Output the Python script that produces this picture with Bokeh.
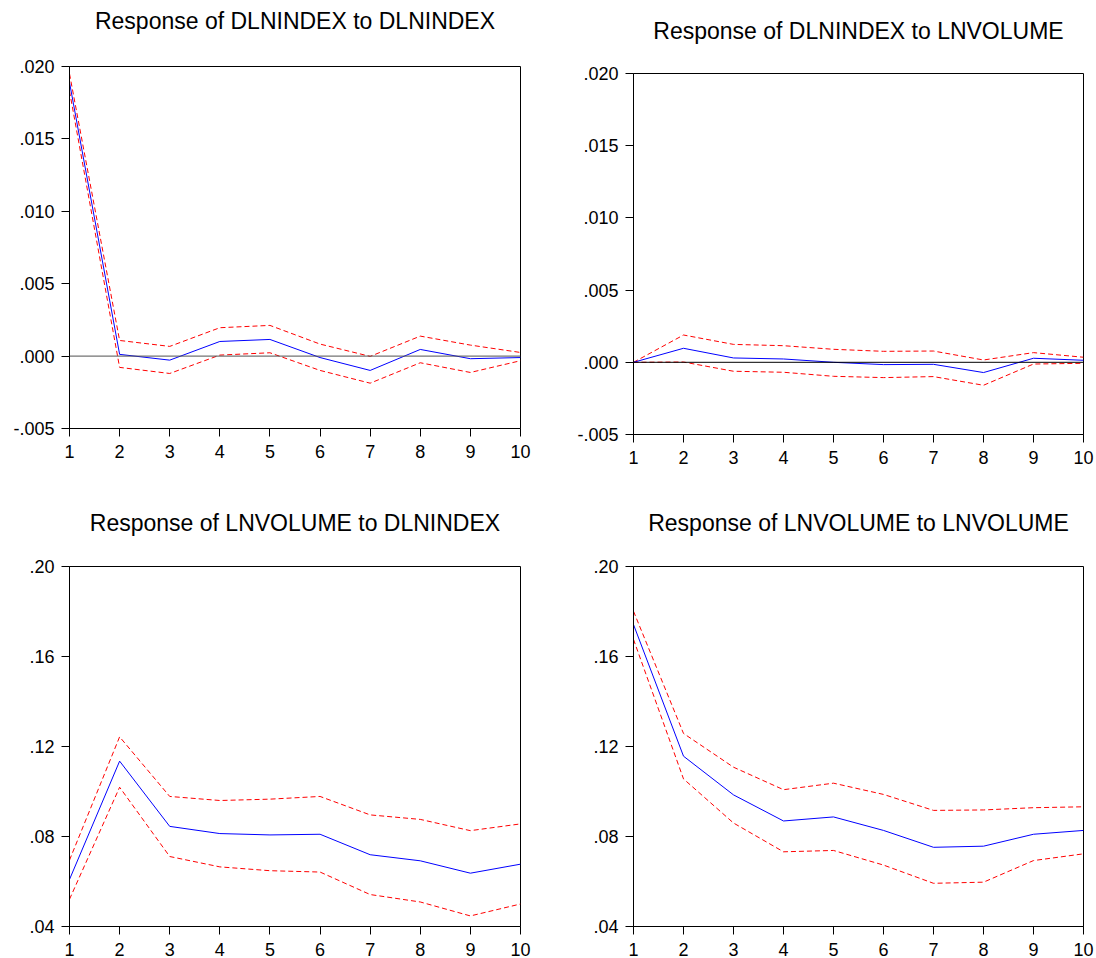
from bokeh.plotting import figure
from bokeh.layouts import column, row
from bokeh.models import Span, Range1d, FixedTicker, CustomJSTickFormatter, Title
from bokeh.embed import file_html
from bokeh.resources import INLINE

periods = list(range(1, 11))

# Response of DLNINDEX to DLNINDEX
idx_idx = [0.0189, 0.00012, -0.00028, 0.00101, 0.00115, -0.0001, -0.00099, 0.00046, -0.00018, -0.0001]
idx_idx_hi = [0.0195, 0.00108, 0.00067, 0.00196, 0.00212, 0.00083, -0.00002, 0.00138, 0.00076, 0.00025]
idx_idx_lo = [0.0183, -0.00078, -0.0012, 0.00007, 0.00023, -0.00099, -0.00187, -0.00046, -0.00113, -0.00032]

# Response of DLNINDEX to LNVOLUME
idx_vol = [0.0, 0.00097, 0.0003, 0.00023, 0.0, -0.00016, -0.00014, -0.00071, 0.00028, 0.00014]
idx_vol_hi = [0.0, 0.00189, 0.00124, 0.00115, 0.0009, 0.00076, 0.00078, 0.00016, 0.00067, 0.00035]
idx_vol_lo = [0.0, 0.00002, -0.00062, -0.00069, -0.00097, -0.00106, -0.00099, -0.00159, -0.00012, -0.00007]

# Response of LNVOLUME to DLNINDEX
vol_idx = [0.0609, 0.1135, 0.0845, 0.0813, 0.0807, 0.0810, 0.0719, 0.0692, 0.0637, 0.0677]
vol_idx_hi = [0.0695, 0.1243, 0.0978, 0.0960, 0.0966, 0.0978, 0.0896, 0.0876, 0.0826, 0.0856]
vol_idx_lo = [0.0521, 0.1019, 0.0711, 0.0665, 0.0648, 0.0642, 0.0542, 0.0509, 0.0447, 0.0500]

# Response of LNVOLUME to LNVOLUME
vol_vol = [0.1742, 0.1157, 0.0985, 0.0869, 0.0887, 0.0827, 0.0752, 0.0757, 0.0810, 0.0827]
vol_vol_hi = [0.1801, 0.1258, 0.1108, 0.1008, 0.1037, 0.0987, 0.0916, 0.0918, 0.0928, 0.0932]
vol_vol_lo = [0.1676, 0.1056, 0.0860, 0.0732, 0.0738, 0.0673, 0.0592, 0.0597, 0.0693, 0.0723]

top_ticks = [-0.005, 0.0, 0.005, 0.010, 0.015, 0.020]
bottom_ticks = [0.04, 0.08, 0.12, 0.16, 0.20]

FONT = "Liberation Sans"


def make_panel(title, resp, hi, lo, ticks, decimals, width, height,
               left, right, top, bottom, zero_line, zero_color, title_gap):
    p = figure(width=width, height=height, output_backend="svg", toolbar_location=None,
               x_range=Range1d(1, 10), y_range=Range1d(ticks[0], ticks[-1]),
               min_border_left=left, min_border_right=right,
               min_border_top=top, min_border_bottom=bottom)
    xaxis = p.below[0]
    yaxis = p.left[0]
    # spacer panel next to the frame, then the real title above it
    p.add_layout(Title(text=" ", text_font_size="1px", standoff=title_gap - 3), "above")
    p.add_layout(Title(text=title, align="center", text_font_size="23px",
                       text_font=FONT, text_font_style="normal", text_color="black",
                       standoff=0), "above")
    p.xgrid.visible = False
    p.ygrid.visible = False
    p.outline_line_color = "black"
    p.outline_line_width = 1
    p.outline_line_alpha = 1
    p.background_fill_color = "white"
    p.border_fill_color = "white"

    for ax in (xaxis, yaxis):
        ax.axis_line_color = "black"
        ax.major_tick_line_color = "black"
        ax.major_tick_out = 8
        ax.major_tick_in = 0
        ax.minor_tick_line_color = None
        ax.major_label_text_font = FONT
        ax.major_label_text_font_size = "18px"
        ax.major_label_text_color = "black"
    xaxis.ticker = FixedTicker(ticks=periods)
    xaxis.major_label_standoff = 8
    yaxis.ticker = FixedTicker(ticks=ticks)
    yaxis.major_label_standoff = 7
    yaxis.formatter = CustomJSTickFormatter(code=f"""
        let s = tick.toFixed({decimals});
        if (parseFloat(s) == 0) {{ s = (0).toFixed({decimals}); }}
        return s.replace(/^(-?)0\\./, "$1.");
    """)

    if zero_line:
        p.add_layout(Span(location=0, dimension="width", line_color=zero_color, line_width=1))

    p.line(periods, hi, line_color="#ff0000", line_width=1, line_dash="5 3")
    p.line(periods, lo, line_color="#ff0000", line_width=1, line_dash="5 3")
    p.line(periods, resp, line_color="#0000ff", line_width=1)
    return p


p1 = make_panel("Response of DLNINDEX to DLNINDEX", idx_idx, idx_idx_hi, idx_idx_lo,
                top_ticks, 3, 560, 490, 69, 40, 66, 62, True, "#505050", 33)
p2 = make_panel("Response of DLNINDEX to LNVOLUME", idx_vol, idx_vol_hi, idx_vol_lo,
                top_ticks, 3, 536, 490, 73, 13, 73, 56, True, "black", 30)
p3 = make_panel("Response of LNVOLUME to DLNINDEX", vol_idx, vol_idx_hi, vol_idx_lo,
                bottom_ticks, 2, 560, 468, 69, 40, 76, 30, False, "black", 31)
p4 = make_panel("Response of LNVOLUME to LNVOLUME", vol_vol, vol_vol_hi, vol_vol_lo,
                bottom_ticks, 2, 536, 468, 73, 13, 76, 30, False, "black", 31)

layout = row(column(p1, p3, spacing=0), column(p2, p4, spacing=0), spacing=0)

open("out.html", "w").write(file_html(layout, INLINE))
